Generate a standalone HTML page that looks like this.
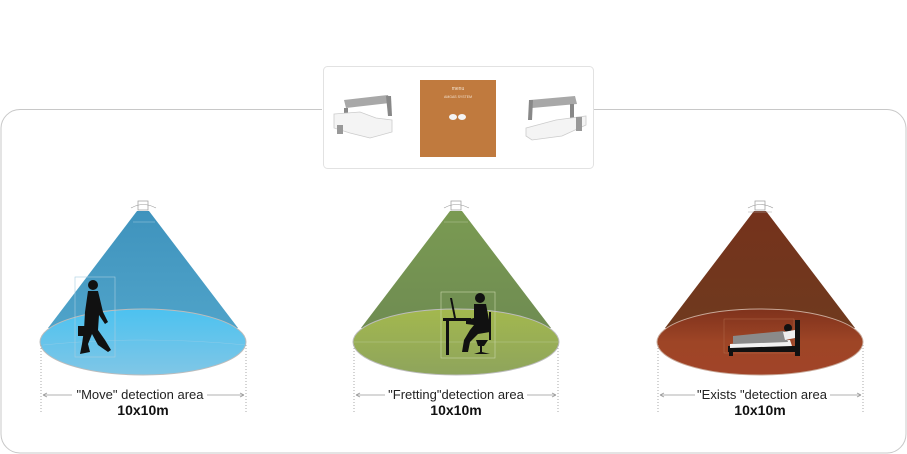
<!DOCTYPE html>
<html><head><meta charset="utf-8"><style>
html,body{margin:0;padding:0;background:#fff;}
svg{display:block;}
text{font-family:"Liberation Sans","DejaVu Sans",sans-serif;}
</style></head><body>
<svg width="907" height="454" viewBox="0 0 907 454" xmlns="http://www.w3.org/2000/svg">
<defs>
<linearGradient id="cb" x1="0" y1="0" x2="0" y2="1"><stop offset="0" stop-color="#3f93bd"/><stop offset="1" stop-color="#4fa3c9"/></linearGradient>
<linearGradient id="eb" x1="0" y1="0" x2="0" y2="1"><stop offset="0" stop-color="#4cc2f0"/><stop offset="1" stop-color="#80c6e6"/></linearGradient>
<linearGradient id="cg" x1="0" y1="0" x2="0" y2="1"><stop offset="0" stop-color="#7a9a52"/><stop offset="1" stop-color="#6f8c52"/></linearGradient>
<linearGradient id="eg" x1="0" y1="0" x2="0" y2="1"><stop offset="0" stop-color="#a3b84e"/><stop offset="1" stop-color="#8ea45c"/></linearGradient>
<linearGradient id="cr" x1="0" y1="0" x2="0" y2="1"><stop offset="0" stop-color="#75321c"/><stop offset="1" stop-color="#6f3a1e"/></linearGradient>
<linearGradient id="er" x1="0" y1="0" x2="0" y2="1"><stop offset="0" stop-color="#7f321c"/><stop offset="0.5" stop-color="#9e4526"/><stop offset="1" stop-color="#a14428"/></linearGradient>
</defs>

<path d="M322 109.5 H20 A19 19 0 0 0 1 128.5 V434 A19 19 0 0 0 20 453 H887 A19 19 0 0 0 906 434 V128.5 A19 19 0 0 0 887 109.5 H594" fill="none" stroke="#c8c8c8" stroke-width="1"/>
<rect x="323.5" y="66.5" width="270" height="102" rx="4" fill="#fff" stroke="#e2e2e2"/>
<rect x="420" y="80" width="76" height="77" fill="#c07a3e"/>
<text x="458" y="90" font-size="5" fill="#f3e3d0" text-anchor="middle">menu</text>
<text x="458" y="98" font-size="3.5" fill="#f3e3d0" text-anchor="middle">AMGAS SYSTEM</text>
<g fill="#f4f4f4"><ellipse cx="453" cy="117" rx="4" ry="3"/><ellipse cx="462" cy="117" rx="4" ry="3"/></g>
<g>
<path d="M344 100 L388 95 L390 103 L346 108 Z" fill="#a8a8a8"/>
<path d="M344 108 L348 108 L348 118 L344 118 Z" fill="#888"/>
<path d="M386 96 L391 96 L392 116 L388 116 Z" fill="#888"/>
<path d="M334 114 L360 112 L376 118 L392 120 L392 132 L370 138 L350 133 L334 128 Z" fill="#f4f4f4" stroke="#ccc" stroke-width="0.8"/>
<rect x="337" y="125" width="6" height="9" fill="#999"/>
</g>
<g>
<path d="M530 100 L575 96 L577 104 L532 108 Z" fill="#a8a8a8"/>
<path d="M529 100 L533 100 L532 120 L528 120 Z" fill="#888"/>
<path d="M570 104 L574 104 L574 118 L570 118 Z" fill="#888"/>
<path d="M526 128 L556 120 L586 116 L586 125 L562 136 L532 140 L526 136 Z" fill="#f4f4f4" stroke="#ccc" stroke-width="0.8"/>
<rect x="576" y="117" width="6" height="14" fill="#999"/>
</g>

<g>
<path d="M137 211 L149 211 L238 328 L48 328 Z" fill="url(#cb)"/>
<ellipse cx="143" cy="342" rx="103" ry="33" fill="url(#eb)" stroke="#bcbcbc" stroke-width="1"/>
<path d="M43 345 Q143 335 246 345" stroke="#8ccbe8" stroke-width="0.6" fill="none"/>
<line x1="133" y1="222" x2="155" y2="222" stroke="#9fcbe0" stroke-width="0.6"/>
<rect x="138" y="201" width="10" height="9" fill="#fff" stroke="#999" stroke-width="0.7"/>
<path d="M131 208 Q143 201 156 208" fill="none" stroke="#999" stroke-width="0.6"/>
<rect x="75" y="277" width="40" height="80" fill="none" stroke="#a8cde0" stroke-width="0.6"/>
<g fill="#111">
<circle cx="93" cy="285" r="5"/>
<path d="M88 291 L98 291 L103 312 L108 322 L105 324 L99 315 L98 330 L105 340 L111 350 L108 352 L98 345 L92 334 L88 344 L90 352 L80 354 L82 344 L84 330 L85 312 Z"/>
<rect x="78" y="326" width="9" height="10"/>
</g>
<line x1="41" y1="345" x2="41" y2="413" stroke="#aaa" stroke-dasharray="1,2"/>
<line x1="246" y1="345" x2="246" y2="413" stroke="#aaa" stroke-dasharray="1,2"/>
<line x1="43" y1="395" x2="72" y2="395" stroke="#999" stroke-width="0.8"/>
<line x1="207" y1="395" x2="244" y2="395" stroke="#999" stroke-width="0.8"/>
<path d="M43 395 l4 -2 M43 395 l4 2 M244 395 l-4 -2 M244 395 l-4 2" stroke="#999" stroke-width="0.8"/>
<text x="140" y="399" font-size="13" fill="#222" text-anchor="middle">"Move" detection area</text>
<text x="143" y="415" font-size="14" font-weight="bold" fill="#111" text-anchor="middle">10x10m</text>
</g>

<g>
<path d="M450 211 L462 211 L551 328 L361 328 Z" fill="url(#cg)"/>
<ellipse cx="456" cy="342" rx="103" ry="33" fill="url(#eg)" stroke="#bcbcbc" stroke-width="1"/>
<path d="M354 342 L558 342" stroke="#b8c890" stroke-width="0.6"/>
<line x1="444" y1="222" x2="468" y2="222" stroke="#b6c79a" stroke-width="0.6"/>
<rect x="451" y="201" width="10" height="9" fill="#fff" stroke="#999" stroke-width="0.7"/>
<path d="M444 208 Q456 201 469 208" fill="none" stroke="#999" stroke-width="0.6"/>
<rect x="441" y="292" width="54" height="66" fill="none" stroke="#c9d6a8" stroke-width="0.6"/>
<g fill="#111">
<circle cx="480" cy="298" r="5"/>
<path d="M474 304 L486 304 L490 325 L490 332 L478 334 L470 342 L468 352 L462 352 L464 340 L470 330 L474 325 L466 324 L466 320 L474 318 Z"/>
<rect x="443" y="318" width="28" height="3"/>
<rect x="446" y="320" width="3" height="35"/>
<path d="M450 298 L452 298 L456 318 L454 318 Z"/>
<path d="M476 340 L488 340 L484 346 L478 346 Z M480 346 L482 346 L482 352 L490 354 L474 354 L480 352 Z"/>
<rect x="489" y="312" width="2" height="28"/>
</g>
<line x1="354" y1="345" x2="354" y2="413" stroke="#aaa" stroke-dasharray="1,2"/>
<line x1="558" y1="345" x2="558" y2="413" stroke="#aaa" stroke-dasharray="1,2"/>
<line x1="356" y1="395" x2="385" y2="395" stroke="#999" stroke-width="0.8"/>
<line x1="527" y1="395" x2="556" y2="395" stroke="#999" stroke-width="0.8"/>
<path d="M356 395 l4 -2 M356 395 l4 2 M556 395 l-4 -2 M556 395 l-4 2" stroke="#999" stroke-width="0.8"/>
<text x="456" y="399" font-size="13" fill="#222" text-anchor="middle">"Fretting"detection area</text>
<text x="456" y="415" font-size="14" font-weight="bold" fill="#111" text-anchor="middle">10x10m</text>
</g>

<g>
<path d="M754 211 L766 211 L855 328 L665 328 Z" fill="url(#cr)"/>
<ellipse cx="760" cy="342" rx="103" ry="33" fill="url(#er)" stroke="#c8a898" stroke-width="1"/>
<line x1="748" y1="212" x2="772" y2="212" stroke="#aaa" stroke-width="0.6"/>
<rect x="755" y="201" width="10" height="9" fill="#fff" stroke="#999" stroke-width="0.7"/>
<path d="M748 208 Q760 201 773 208" fill="none" stroke="#999" stroke-width="0.6"/>
<rect x="724" y="319" width="70" height="34" fill="none" stroke="#b06a4a" stroke-width="0.5"/>
<g>
<rect x="795" y="320" width="5" height="36" fill="#111"/>
<rect x="728" y="346" width="70" height="6" fill="#111"/>
<rect x="729" y="350" width="4" height="6" fill="#111"/>
<path d="M730 344 L760 342 L790 340 L792 346 L730 348 Z" fill="#f2f2f2"/>
<path d="M733 336 L784 331 L788 342 L733 344 Z" fill="#8a8a8a"/>
<circle cx="788" cy="328" r="4" fill="#111"/>
<path d="M783 332 L795 330 L795 338 L785 340 Z" fill="#eee"/>
</g>
<line x1="658" y1="345" x2="658" y2="413" stroke="#aaa" stroke-dasharray="1,2"/>
<line x1="863" y1="345" x2="863" y2="413" stroke="#aaa" stroke-dasharray="1,2"/>
<line x1="660" y1="395" x2="695" y2="395" stroke="#999" stroke-width="0.8"/>
<line x1="830" y1="395" x2="861" y2="395" stroke="#999" stroke-width="0.8"/>
<path d="M660 395 l4 -2 M660 395 l4 2 M861 395 l-4 -2 M861 395 l-4 2" stroke="#999" stroke-width="0.8"/>
<text x="762" y="399" font-size="13" fill="#222" text-anchor="middle">"Exists "detection area</text>
<text x="760" y="415" font-size="14" font-weight="bold" fill="#111" text-anchor="middle">10x10m</text>
</g>
</svg>
</body></html>
